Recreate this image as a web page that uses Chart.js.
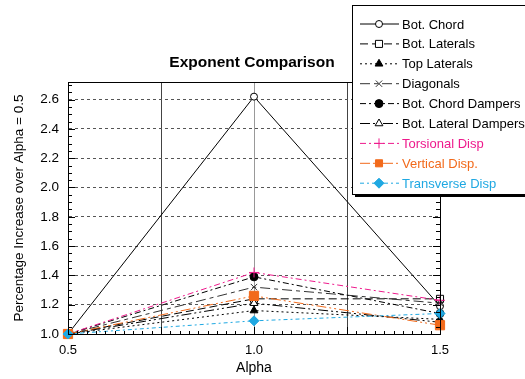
<!DOCTYPE html>
<html>
<head>
<meta charset="utf-8">
<script src="https://cdn.jsdelivr.net/npm/chart.js@4.4.0/dist/chart.umd.min.js"></script>
<style>
  html, body { margin: 0; padding: 0; background: #fff; }
  #wrap { width: 525px; height: 379px; }
</style>
</head>
<body>
<div id="wrap"><canvas id="exponentChart"></canvas></div>
<script>
// data
const alphas = [0.5, 1.0, 1.5];
const seriesNames = ["Bot. Chord", "Bot. Laterals", "Top Laterals", "Diagonals",
  "Bot. Chord Dampers", "Bot. Lateral Dampers", "Torsional Disp", "Vertical Disp.", "Transverse Disp"];
const botChord = [1.0, 2.62, 1.19];
const botLaterals = [1.0, 1.24, 1.24];
const topLaterals = [1.0, 1.16, 1.10];
const diagonals = [1.0, 1.32, 1.21];
const botChordDampers = [1.0, 1.39, 1.14];
const botLateralDampers = [1.0, 1.21, 1.08];
const torsionalDisp = [1.0, 1.42, 1.23];
const verticalDisp = [1.0, 1.26, 1.06];
const transverseDisp = [1.0, 1.09, 1.14];
const yTickValues = [1.0, 1.2, 1.4, 1.6, 1.8, 2.0, 2.2, 2.4, 2.6];

const seriesValues = [botChord, botLaterals, topLaterals, diagonals, botChordDampers,
  botLateralDampers, torsionalDisp, verticalDisp, transverseDisp];

// look of each series
const styles = [
  { color: '#000000', fill: '#ffffff', text: '#000', point: 'circle', r: 3.5, dash: [] },
  { color: '#000000', fill: '#ffffff', text: '#000', point: 'rect', r: 5, dash: [8, 4] },
  { color: '#000000', fill: '#000000', text: '#000', point: 'triangle', r: 4.5, dash: [2, 3] },
  { color: '#333333', fill: '#333333', text: '#000', point: 'crossRot', r: 4.5, dash: [10, 4, 4, 4] },
  { color: '#000000', fill: '#000000', text: '#000', point: 'circle', r: 4, dash: [6, 3, 2, 3] },
  { color: '#000000', fill: '#ffffff', text: '#000', point: 'triangle', r: 4.5, dash: [10, 3, 2, 3, 2, 3] },
  { color: '#ee1a8c', fill: '#ee1a8c', text: '#ee1a8c', point: 'cross', r: 5, dash: [6, 3, 2, 3] },
  { color: '#f26a1b', fill: '#f26a1b', text: '#f26a1b', point: 'rect', r: 6.5, dash: [10, 3, 2, 3, 2, 3] },
  { color: '#1fa8e2', fill: '#1fa8e2', text: '#1fa8e2', point: 'rectRot', r: 5, dash: [4, 3, 2, 3] }
];

const FONT = "'Liberation Sans', Arial, sans-serif";

const datasets = seriesNames.map((name, i) => ({
  label: name,
  data: alphas.map((a, j) => ({ x: a, y: seriesValues[i][j] })),
  borderColor: styles[i].color,
  backgroundColor: styles[i].fill,
  pointBorderColor: styles[i].color,
  pointBackgroundColor: styles[i].fill,
  pointStyle: styles[i].point,
  pointRadius: styles[i].r,
  pointBorderWidth: 1,
  borderWidth: 1,
  borderDash: styles[i].dash,
  tension: 0,
  clip: false,
  order: seriesNames.length - i
}));

// frame + inner ticks
const frameTicks = {
  id: 'frameTicks',
  afterDatasetsDraw(chart) {
    const { ctx, chartArea: a, scales: { x, y } } = chart;
    ctx.save();
    ctx.strokeStyle = '#000';
    ctx.lineWidth = 1;
    ctx.beginPath();
    for (let k = 0; k <= 34; k++) {
      const v = 1.0 + k * 0.05;
      const py = Math.round(y.getPixelForValue(v)) + 0.5;
      if (py < a.top) break;
      const len = (k % 4 === 0) ? 7 : 4;
      ctx.moveTo(a.left, py); ctx.lineTo(a.left + len, py);
      ctx.moveTo(a.right, py); ctx.lineTo(a.right - len, py);
    }
    for (let k = 0; k <= 40; k++) {
      const v = 0.5 + k * 0.025;
      const px = Math.round(x.getPixelForValue(v)) + 0.5;
      const len = (k % 10 === 0) ? 7 : 3;
      ctx.moveTo(px, a.bottom); ctx.lineTo(px, a.bottom - len);
    }
    ctx.stroke();
    ctx.strokeRect(Math.round(a.left) + 0.5, Math.round(a.top) + 0.5,
      Math.round(a.right - a.left), Math.round(a.bottom - a.top));
    ctx.restore();
  }
};

// title + boxed legend drawn over the plot
const boxLegend = {
  id: 'boxLegend',
  afterDraw(chart) {
    const { ctx } = chart;
    ctx.save();
    ctx.fillStyle = '#000';
    ctx.font = 'bold 15.5px ' + FONT;
    ctx.textAlign = 'center';
    ctx.textBaseline = 'middle';
    ctx.fillText('Exponent Comparison', 252, 63);

    const bx = 352, by = 5, bw = 180, bh = 189;
    ctx.fillStyle = '#fff';
    ctx.fillRect(bx, by, bw, bh);
    ctx.strokeStyle = '#000';
    ctx.lineWidth = 1;
    ctx.strokeRect(bx + 0.5, by + 0.5, bw, bh);
    ctx.fillStyle = '#000';
    ctx.fillRect(bx + 3, by + bh, bw, 3);

    ctx.font = '13px ' + FONT;
    ctx.textAlign = 'left';
    chart.data.datasets.forEach((ds, i) => {
      const cy = 24 + i * 19.9;
      ctx.strokeStyle = ds.borderColor;
      ctx.setLineDash(ds.borderDash);
      ctx.beginPath();
      ctx.moveTo(360, cy); ctx.lineTo(399, cy);
      ctx.stroke();
      ctx.setLineDash([]);
      ctx.fillStyle = ds.pointBackgroundColor;
      ctx.strokeStyle = ds.pointBorderColor;
      Chart.helpers.drawPoint(ctx, { pointStyle: ds.pointStyle, radius: Math.min(ds.pointRadius, 5), rotation: 0, borderWidth: 1 }, 379, cy);
      ctx.fillStyle = styles[i].text;
      ctx.fillText(ds.label, 402, cy + 1);
    });
    ctx.restore();
  }
};

new Chart(document.getElementById('exponentChart'), {
  type: 'line',
  data: { datasets: datasets },
  options: {
    responsive: true,
    maintainAspectRatio: false,
    animation: false,
    layout: { padding: { top: 82, right: 85, left: 0, bottom: 0 } },
    plugins: { legend: { display: false }, title: { display: false }, tooltip: { enabled: false } },
    scales: {
      x: {
        type: 'linear',
        min: 0.5,
        max: 1.5,
        afterFit(scale) { scale.height = 45; },
        afterBuildTicks(scale) {
          scale.ticks = [0.5, 0.75, 1.0, 1.25, 1.5].map(v => ({ value: v }));
        },
        ticks: {
          padding: 9,
          color: '#000',
          font: { family: FONT, size: 13 },
          callback: v => (Math.abs(v * 2 - Math.round(v * 2)) < 1e-6 ? v.toFixed(1) : '')
        },
        grid: {
          drawTicks: false,
          color: ctx => (ctx.tick && ctx.tick.value === 1.0 ? '#999' : '#444'),
          lineWidth: 1
        },
        border: { display: true, color: '#000' },
        title: { display: true, text: 'Alpha', color: '#000', font: { family: FONT, size: 14 }, padding: { top: 0, bottom: 2 } }
      },
      y: {
        type: 'linear',
        min: 1.0,
        max: 2.72,
        afterFit(scale) { scale.width = 68; },
        afterBuildTicks(scale) {
          scale.ticks = yTickValues.map(v => ({ value: v }));
        },
        ticks: {
          padding: 9,
          color: '#000',
          font: { family: FONT, size: 13.5 },
          callback: v => v.toFixed(1)
        },
        grid: {
          drawTicks: false,
          color: '#555',
          lineWidth: 1
        },
        border: { display: true, color: '#000', dash: [3, 3] },
        title: { display: true, text: 'Percentage Increase over Alpha = 0.5', color: '#000', font: { family: FONT, size: 13.5 }, padding: { top: 11 } }
      }
    }
  },
  plugins: [frameTicks, boxLegend]
});
</script>
</body>
</html>
